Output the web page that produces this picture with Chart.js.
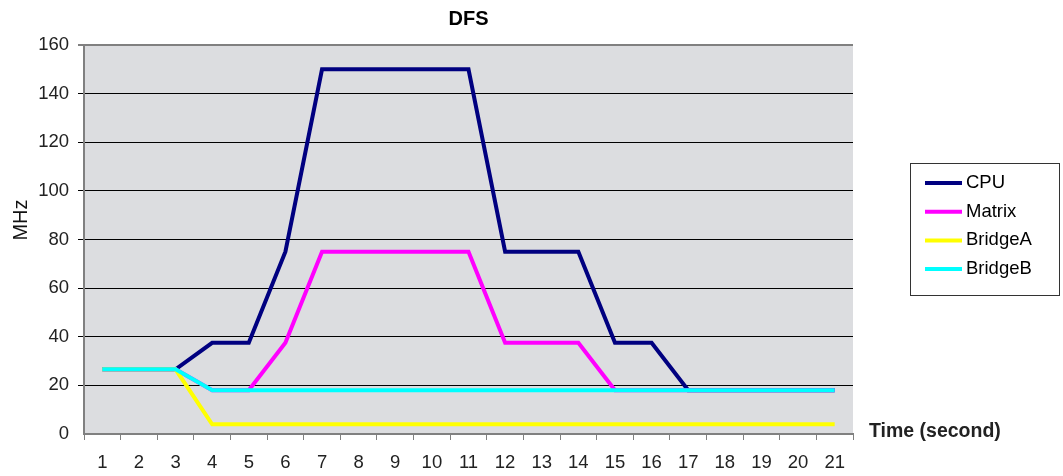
<!DOCTYPE html>
<html><head><meta charset="utf-8">
<script src="https://cdn.jsdelivr.net/npm/chart.js@4/dist/chart.umd.min.js"></script>
<style>html,body{margin:0;padding:0;background:#fff;}#wrap{width:1063px;height:476px;position:relative;}</style>
</head><body><div id="wrap"><canvas id="c" width="1063" height="476"></canvas></div>
<script>
const categories = ['1','2','3','4','5','6','7','8','9','10','11','12','13','14','15','16','17','18','19','20','21'];
const cpu     = [26.6,26.6,26.6,37.5,37.5,75,150,150,150,150,150,75,75,75,37.5,37.5,18,18,18,18,18];
const matrix  = [26.6,26.6,26.6,18,18,37.5,75,75,75,75,75,37.5,37.5,37.5,18,18,18,18,18,18,18];
const bridgeA = [26.6,26.6,26.6,4,4,4,4,4,4,4,4,4,4,4,4,4,4,4,4,4,4];
const bridgeB = [26.6,26.6,26.6,18,18,18,18,18,18,18,18,18,18,18,18,18,18,18,18,18,18];
const seriesNames = ['CPU','Matrix','BridgeA','BridgeB'];
const seriesColors = ['#000080','#FF00FF','#FFFF00','#00FFFF'];
const yTicks = [0,20,40,60,80,100,120,140,160];

const FONT = '"Liberation Sans", Arial, sans-serif';

const deco = {
  id:'deco',
  beforeDraw(chart){
    const {ctx, chartArea:a} = chart;
    ctx.save();
    ctx.fillStyle = '#DCDDE0';
    ctx.fillRect(a.left, a.top, a.right-a.left, a.bottom-a.top);
    ctx.restore();
  },
  afterDraw(chart){
    const {ctx, chartArea:a} = chart;
    ctx.save();
    ctx.fillStyle = '#000';
    ctx.font = 'bold 20px ' + FONT;
    ctx.textAlign = 'center'; ctx.textBaseline = 'middle';
    ctx.fillText('DFS', (a.left+a.right)/2, 19);
    ctx.font = '20px ' + FONT;
    ctx.fillStyle = '#111';
    ctx.translate(21, 220);
    ctx.rotate(-Math.PI/2);
    ctx.fillText('MHz', 0, 0);
    ctx.setTransform(1,0,0,1,0,0);
    ctx.font = 'bold 19.5px ' + FONT;
    ctx.textAlign = 'left';
    ctx.fillStyle = '#222';
    ctx.fillText('Time (second)', 869, 432);
    const lx = 910.5, ly = 163.5, lw = 149, lh = 132;
    ctx.fillStyle = '#fff';
    ctx.fillRect(lx, ly, lw, lh);
    ctx.strokeStyle = '#333'; ctx.lineWidth = 1;
    ctx.strokeRect(lx, ly, lw, lh);
    ctx.font = '18.5px ' + FONT;
    ctx.textBaseline = 'middle';
    chart.data.datasets.forEach((ds, i) => {
      const y = 183 + i*28.7;
      ctx.strokeStyle = ds.borderColor; ctx.lineWidth = 4;
      ctx.beginPath(); ctx.moveTo(925, y); ctx.lineTo(962, y); ctx.stroke();
      ctx.fillStyle = '#000';
      ctx.fillText(ds.label, 966, y);
    });
    ctx.restore();
  }
};

const datasets = [cpu, matrix, bridgeA, bridgeB].map((d, i) => ({
  label: seriesNames[i], data: d, borderColor: seriesColors[i], backgroundColor: seriesColors[i],
  borderWidth: 4, pointRadius: 0, tension: 0, fill: false, borderJoinStyle: 'miter',
  order: 3 - i
}));

new Chart(document.getElementById('c'), {
  type: 'line',
  data: { labels: categories, datasets },
  options: {
    responsive: false, animation: false, devicePixelRatio: 1,
    layout: { padding: { left: 0, right: 210, top: 45, bottom: 0 } },
    plugins: { legend: { display: false }, tooltip: { enabled: false }, title: { display: false } },
    scales: {
      x: {
        offset: true,
        grid: { offset: true, drawOnChartArea: false, tickLength: 6, color: '#808080', tickWidth: 1 },
        border: { color: '#808080', width: 2 },
        ticks: { color: '#222', font: { family: FONT, size: 18.5 }, padding: 12, maxRotation: 0, autoSkip: false },
        afterFit(s){ s.height = 42; }
      },
      y: {
        min: 0, max: 160,
        afterBuildTicks(s){ s.ticks = yTicks.map(v => ({ value: v })); },
        grid: {
          tickLength: 6,
          color: c => c.tick && c.tick.value === 0 ? 'rgba(0,0,0,0)' : (c.tick && c.tick.value === 160 ? '#808080' : '#000'),
          lineWidth: c => c.tick && c.tick.value === 160 ? 2 : 1
        },
        border: { color: '#808080', width: 2 },
        ticks: { color: '#222', font: { family: FONT, size: 18.5 }, padding: 9 },
        afterFit(s){ s.width = 84; }
      }
    }
  },
  plugins: [deco]
});
</script></body></html>
